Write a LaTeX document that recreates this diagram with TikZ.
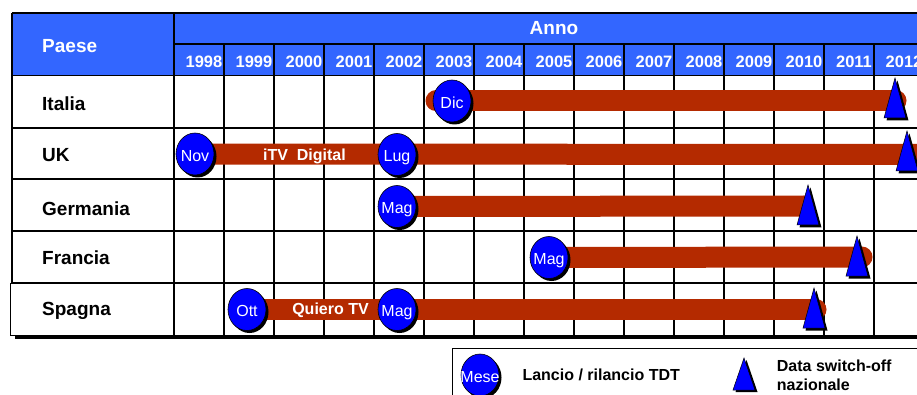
\documentclass[tikz,border=0pt]{standalone}
\usepackage{fontspec}
\setmainfont{Liberation Sans}
\usetikzlibrary{shapes.geometric,shadows}
\definecolor{hdrblue}{RGB}{51,102,255}
\definecolor{mkblue}{RGB}{0,0,255}
\definecolor{barred}{RGB}{180,42,0}
\begin{document}
\begin{tikzpicture}[x=1pt,y=-1pt,
  gridline/.style={line width=1.2pt, black},
  hdr/.style={text=white, font=\bfseries\fontsize{19}{19}\selectfont, inner sep=0},
  yr/.style={text=white, font=\bfseries\fontsize{16.5}{16.5}\selectfont, anchor=base, inner sep=0},
  country/.style={font=\bfseries\fontsize{19}{19}\selectfont, anchor=base west, inner sep=0},
  launch/.style={ellipse, fill=mkblue, draw=black, line width=0.6pt, minimum width=38pt, minimum height=42pt, inner sep=0,
     drop shadow={shadow xshift=2.5pt, shadow yshift=-2.5pt, opacity=1, fill=black}},
  mtext/.style={text=white, font=\fontsize{16}{16}\selectfont, inner sep=0, text height=11.5pt, text depth=0pt, yshift=-1.5pt},
  tlbar/.style={line width=21pt, line cap=round, barred},
  barlabel/.style={text=white, font=\bfseries\fontsize{16}{16}\selectfont, anchor=base, inner sep=0},
  legtext/.style={font=\bfseries\fontsize{16}{16}\selectfont, anchor=base west, inner sep=0},
  swtri/.pic={
    \fill[black] (2.5,2.5) -- (13.5,42.5) -- (-8.5,42.5) -- cycle;
    \fill[mkblue, draw=black, line width=0.5pt] (0,0) -- (11,40) -- (-11,40) -- cycle;
  }
]
\useasboundingbox (0,0) rectangle (917,395);
\clip (0,0) rectangle (917,395);

% header
\fill[hdrblue] (12,13) rectangle (930,75.5);
\draw[gridline] (12,13) -- (930,13);
\draw[gridline] (174,44) -- (930,44);
\foreach \yy in {75.5,128,179,231} \draw[gridline] (12,\yy) -- (930,\yy);
\draw[gridline] (10.5,283) -- (930,283);
\draw[gridline] (12,13) -- (12,283);
\draw[gridline] (10.5,283) -- (10.5,335.5);
\draw[gridline] (10.5,335.5) -- (930,335.5);
\draw[gridline] (174,13) -- (174,335.5);
\foreach \i in {0,...,13} \draw[gridline] (224+50*\i,44) -- (224+50*\i,335.5);
\draw[line width=3pt] (15,337.5) -- (930,337.5);

% header texts
\node[hdr, anchor=base west] (paese) at (42,52.3) {Paese};
\node[hdr, anchor=base] (anno) at (554,35) {Anno};
\foreach \yrnum [count=\i from 0] in {1998,...,2012}
  \node[yr] (y\yrnum) at (204+50*\i,67.7) {\yrnum};

% country labels
\node[country] (cIta) at (42,110.7) {Italia};
\node[country] (cUK) at (42,162) {UK};
\node[country] (cGer) at (42,215.7) {Germania};
\node[country] (cFra) at (42,264) {Francia};
\node[country] (cSpa) at (42,315.7) {Spagna};

% coordinates
\coordinate (itaS) at (436,101);
\coordinate (itaE) at (896,101);
\coordinate (ukE) at (935,154.5);
\coordinate (gerE) at (804,206);
\coordinate (fraE) at (862,257);
\coordinate (spaE) at (816,309.5);

% launch markers positions
\coordinate (pIta) at (452,101);
\coordinate (pUK1) at (195,154);
\coordinate (pUK2) at (397,154.5);
\coordinate (pGer) at (397,206.5);
\coordinate (pFra) at (549,257.5);
\coordinate (pSpa1) at (247,309.5);
\coordinate (pSpa2) at (397,309.5);

% bars
\draw[tlbar] (itaS) -- (itaE);
\draw[tlbar] (pUK1) -- (ukE);
\draw[tlbar] (pGer) -- (gerE);
\draw[tlbar] (pFra) -- (fraE);
\draw[tlbar] (pSpa1) -- (spaE);

\node[barlabel] (itv) at (304.5,161) {iTV\ \ Digital};
\node[barlabel] (quiero) at (330.5,314) {Quiero TV};

% launch markers
\node[launch, label={[mtext]center:Dic}] (lIta) at (pIta) {};
\node[launch, label={[mtext]center:Nov}] (lUK1) at (pUK1) {};
\node[launch, label={[mtext]center:Lug}] (lUK2) at (pUK2) {};
\node[launch, label={[mtext]center:Mag}] (lGer) at (pGer) {};
\node[launch, label={[mtext]center:Mag}] (lFra) at (pFra) {};
\node[launch, label={[mtext]center:Ott}] (lSpa1) at (pSpa1) {};
\node[launch, label={[mtext]center:Mag}] (lSpa2) at (pSpa2) {};

% switch-off triangles
\pic (tIta) at (895,78) {swtri};
\pic (tUK) at (907,131) {swtri};
\pic (tGer) at (808,185) {swtri};
\pic (tFra) at (857,236) {swtri};
\pic (tSpa) at (814,288) {swtri};

% legend
\draw[line width=1pt] (452,400) -- (452,348) -- (930,348);
\node[launch, label={[mtext]center:Mese}] (lgM) at (480,375) {};
\node[legtext] (lgL) at (522.3,380) {Lancio / rilancio TDT};
\pic[yscale=0.8] (lgT) at (744,358) {swtri};
\node[legtext] (lgD1) at (776.7,371.7) {Data switch-off};
\node[legtext] (lgD2) at (776.7,390.7) {nazionale};
\end{tikzpicture}
\end{document}
